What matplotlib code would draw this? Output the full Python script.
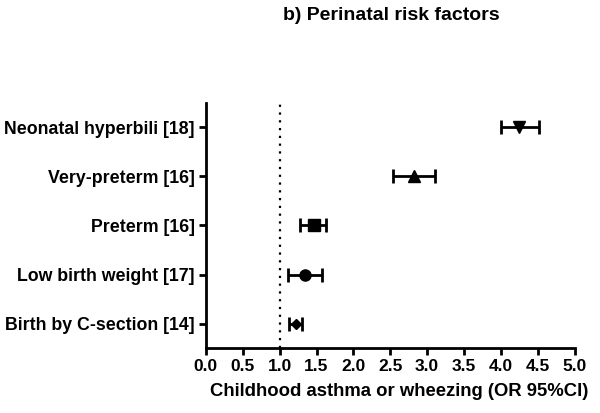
import matplotlib
matplotlib.use("Agg")
import matplotlib.pyplot as plt

# Perinatal risk factors: odds ratios with 95% CI
factores = ['Neonatal hyperbili [18]', 'Very-preterm [16]', 'Preterm [16]',
            'Low birth weight [17]', 'Birth by C-section [14]']
or_valor = [4.25, 2.82, 1.47, 1.35, 1.22]
ic_bajo = [4.00, 2.53, 1.28, 1.12, 1.13]
ic_alto = [4.52, 3.11, 1.63, 1.58, 1.30]
marcadores = ['v', '^', 's', 'o', 'D']
tamanos = [8, 8, 8, 8, 5]

plt.rcParams['font.family'] = ['Liberation Sans', 'DejaVu Sans']
plt.rcParams['font.weight'] = 'bold'

fig = plt.figure(figsize=(6, 4.13), dpi=100)
ax = fig.add_axes([0.343, 0.157, 0.615, 0.594])

n = len(factores)
posiciones = [n - i for i in range(n)]

for i in range(n):
    err = [[or_valor[i] - ic_bajo[i]], [ic_alto[i] - or_valor[i]]]
    ax.errorbar(or_valor[i], posiciones[i], xerr=err, fmt=marcadores[i],
                color='black', markersize=tamanos[i], elinewidth=2,
                capsize=5, capthick=2, zorder=3)

ax.axvline(1.0, color='black', linestyle=(0, (1, 2.5)), linewidth=1.6, zorder=1)

ax.set_xlim(0, 5)
ax.set_ylim(0.5, n + 0.5)
ax.set_xticks([k * 0.5 for k in range(11)])
ax.set_xticklabels([f'{k * 0.5:.1f}' for k in range(11)], fontsize=12.5, fontweight='bold')
ax.set_yticks(posiciones)
ax.set_yticklabels(factores, fontsize=12.8, fontweight='bold')

for lado in ['top', 'right']:
    ax.spines[lado].set_visible(False)
for lado in ['left', 'bottom']:
    ax.spines[lado].set_linewidth(2)
ax.tick_params(width=2, length=5, direction='out', pad=3)

ax.set_xlabel('Childhood asthma or wheezing (OR 95%CI)', fontsize=13.3, fontweight='bold')
ax.xaxis.set_label_coords(0.525, -0.14)
fig.text(0.652, 0.963, 'b) Perinatal risk factors', ha='center', va='center',
         fontsize=14, fontweight='bold')

fig.savefig('out.png', dpi=100)
